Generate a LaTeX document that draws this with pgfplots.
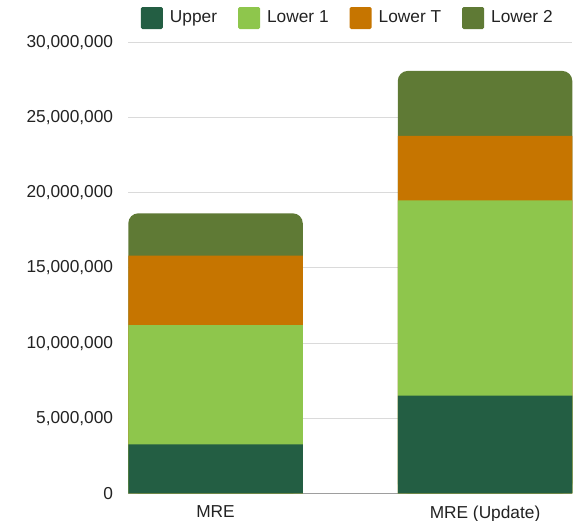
\documentclass[border=0pt]{standalone}
\usepackage{pgfplots}
\pgfplotsset{compat=1.18}
\usepackage{fontspec}
\setmainfont{Liberation Sans}
\definecolor{upperc}{HTML}{235E43}
\definecolor{lowerone}{HTML}{8EC64C}
\definecolor{lowert}{HTML}{C67500}
\definecolor{lowertwo}{HTML}{5F7A35}
\definecolor{gridc}{HTML}{DADADA}
\definecolor{basec}{HTML}{9E9E9E}
\definecolor{labelc}{HTML}{222222}
\begin{document}
\fontsize{17.3}{20}\selectfont
\begin{tikzpicture}[x=1pt,y=1pt]
\path[use as bounding box] (0,0) rectangle (574,521);
\begin{axis}[
  at={(128.3pt,27.7pt)}, anchor=south west,
  scale only axis, width=444pt, height=450.6pt,
  xmin=-0.3238, xmax=1.3238, ymin=0, ymax=30000000,
  xtick={0,1}, xticklabels={MRE, MRE (Update)},
  ytick={0,5000000,10000000,15000000,20000000,25000000,30000000},
  scaled y ticks=false,
  axis line style={draw=none},
  major tick length=0pt,
  tick style={draw=none},
  ymajorgrids,
  grid style={line width=1pt, color=gridc},
  extra y ticks={0},
  extra y tick labels={},
  extra y tick style={grid style={line width=1pt, color=basec}},
  tick label style={font=\fontsize{17.3}{20}\selectfont, text=labelc},
  yticklabel style={/pgf/number format/.cd, fixed, 1000 sep={,}, assume math mode=true, /tikz/.cd, inner sep=0pt, anchor=east, xshift=-15pt},
  xticklabel style={inner sep=0pt, anchor=north, yshift=-12.5pt},
  legend image code/.code={\fill[#1, rounded corners=1.5pt] (0pt,-11pt) rectangle (22pt,11pt);},
  legend style={at={(0.0286,1.0548)}, anchor=west, draw=none, fill=none,
    legend columns=-1, inner sep=0pt, outer sep=0pt,
    font=\fontsize{17.3}{20}\selectfont, text=labelc,
    nodes={inner sep=0pt},
    /tikz/every odd column/.append style={column sep=7pt},
    /tikz/every even column/.append style={column sep=21pt}},
]
\addlegendimage{fill=upperc, draw=none}
\addlegendimage{fill=lowerone, draw=none}
\addlegendimage{fill=lowert, draw=none}
\addlegendimage{fill=lowertwo, draw=none}
% cumulative tops of the stacked segments, drawn from the top down
\addplot[ybar, bar width=0.6475, bar shift=0pt, fill=lowertwo, draw=none, rounded corners=10pt, forget plot]
  coordinates {(0,18640000) (1,28120000)};
\addplot[ybar, bar width=0.6475, bar shift=0pt, fill=lowert, draw=none, forget plot]
  coordinates {(0,15820000) (1,23790000)};
\addplot[ybar, bar width=0.6475, bar shift=0pt, fill=lowerone, draw=none, forget plot]
  coordinates {(0,11190000) (1,19510000)};
\addplot[ybar, bar width=0.6475, bar shift=0pt, fill=upperc, draw=none, forget plot]
  coordinates {(0,3260000) (1,6500000)};
\legend{Upper, Lower 1, Lower T, Lower 2}
\end{axis}
\end{tikzpicture}
\end{document}
